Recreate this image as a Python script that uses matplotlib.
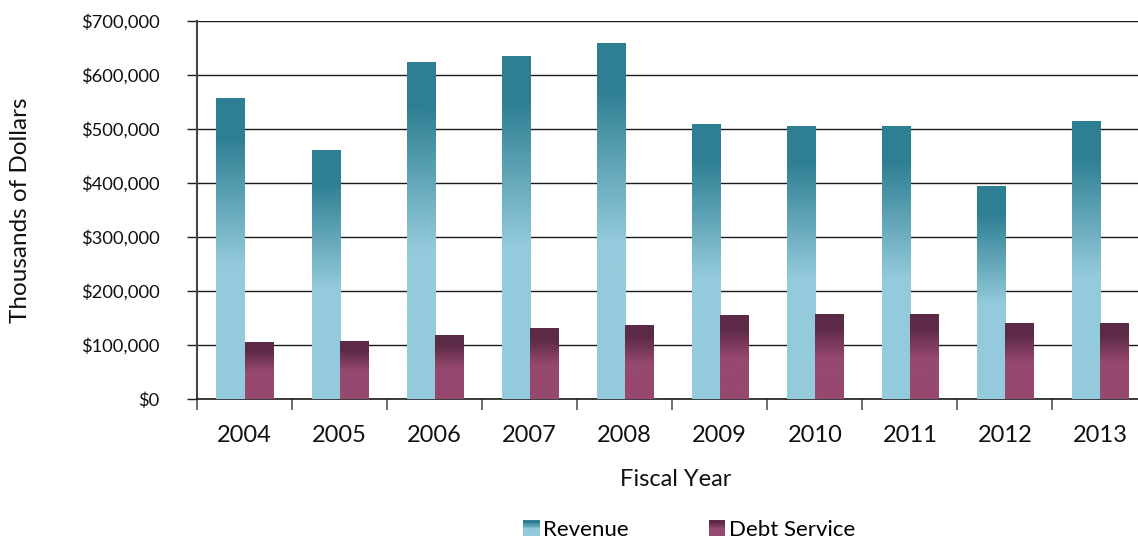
import numpy as np
import matplotlib
matplotlib.use("Agg")
import matplotlib.pyplot as plt
from matplotlib.colors import LinearSegmentedColormap
from matplotlib.patches import Rectangle
from matplotlib.legend_handler import HandlerBase
from matplotlib.ticker import FuncFormatter

plt.rcParams['font.family'] = ['Lato', 'DejaVu Sans']

# Fiscal-year revenue and debt service, thousands of dollars
years = ["2004", "2005", "2006", "2007", "2008", "2009", "2010", "2011", "2012", "2013"]
revenue = [557000, 461000, 624000, 635000, 659000, 509000, 504000, 504000, 393000, 513000]
debt_service = [104000, 106000, 117000, 131000, 137000, 154000, 156000, 156000, 139000, 139000]

fig = plt.figure(figsize=(11.38, 5.42), dpi=100)
W, H = 1138, 542
ax = fig.add_axes([197 / W, (H - 399) / H, 950.5 / W, 378 / H])

# vertical gradients: (position from bottom, colour)
rev_cmap = LinearSegmentedColormap.from_list(
    "rev", [(0.0, "#94cbdc"), (0.44, "#94cbdc"), (0.87, "#2e7f93"), (1.0, "#2e7f93")])
debt_cmap = LinearSegmentedColormap.from_list(
    "debt", [(0.0, "#97486f"), (0.48, "#97486f"), (0.84, "#5c2a47"), (1.0, "#5c2a47")])

x = np.arange(len(years))
bw = 0.295
grad = np.linspace(0, 1, 256).reshape(-1, 1)


def gradient_bars(xs, vals, cmap):
    bars = ax.bar(xs, vals, width=bw, color="none", edgecolor="none", zorder=3)
    for rect in bars:
        x0, w, h = rect.get_x(), rect.get_width(), rect.get_height()
        ax.imshow(grad, cmap=cmap, origin="lower", aspect="auto",
                  extent=(x0, x0 + w, 0, h), zorder=3, interpolation="bilinear")
    return bars


gradient_bars(x - bw / 2, revenue, rev_cmap)
gradient_bars(x + bw / 2, debt_service, debt_cmap)

ax.set_xlim(-0.5, len(years) - 0.5)
ax.set_ylim(0, 700000)
ax.set_yticks(np.arange(0, 700001, 100000))
ax.yaxis.set_major_formatter(FuncFormatter(lambda v, p: f"${v:,.0f}"))
ax.grid(axis="y", color="#1a1a1a", linewidth=1.0, zorder=1)
ax.set_axisbelow(True)

# category labels centred, tick marks on category boundaries
ax.set_xticks(x)
ax.set_xticklabels(years, fontsize=17, color="#111111")
ax.tick_params(axis="x", which="major", length=0, pad=19)
ax.set_xticks(np.arange(-0.5, len(years) + 0.5, 1), minor=True)
ax.tick_params(axis="x", which="minor", length=8, width=1.2, color="#555555", direction="out")
ax.tick_params(axis="y", length=7, width=1.0, color="#1a1a1a", labelsize=13.2,
               labelcolor="#111111", pad=20)

for s in ["top", "right"]:
    ax.spines[s].set_visible(False)
ax.spines["left"].set_color("#444444")
ax.spines["left"].set_linewidth(1.5)
ax.spines["bottom"].set_color("#1a1a1a")
ax.spines["bottom"].set_linewidth(1.2)

fig.text(676 / W, 1 - 479 / H, "Fiscal Year", fontsize=17, color="#111111",
         ha="center", va="center")
fig.text(21 / W, 1 - 210 / H, "Thousands of Dollars", fontsize=17.5, color="#111111",
         ha="center", va="center", rotation=90)


class GradientSwatch(HandlerBase):
    """Legend key drawn as a small square with the bar's vertical gradient."""

    def __init__(self, cmap):
        super().__init__()
        self.cmap = cmap

    def create_artists(self, legend, orig_handle, xdescent, ydescent,
                       width, height, fontsize, trans):
        side = min(width, height)
        x0 = -xdescent + (width - side) / 2
        y0 = -ydescent + (height - side) / 2
        n = 12
        artists = []
        for i in range(n):
            f = (i + 0.5) / n
            artists.append(Rectangle((x0, y0 + side * i / n), side, side / n + 0.3,
                                     facecolor=self.cmap(f), edgecolor="none",
                                     transform=trans))
        return artists


h_rev = Rectangle((0, 0), 1, 1)
h_debt = Rectangle((0, 0), 1, 1)
fig.legend([h_rev, h_debt], ["Revenue", "Debt Service"], loc="center",
           bbox_to_anchor=(689 / W, 1 - 530 / H), ncol=2, frameon=False,
           fontsize=16, handlelength=0.75, handleheight=0.75,
           handletextpad=0.15, columnspacing=3.6,
           handler_map={h_rev: GradientSwatch(rev_cmap), h_debt: GradientSwatch(debt_cmap)})

fig.savefig("out.png", dpi=100)
